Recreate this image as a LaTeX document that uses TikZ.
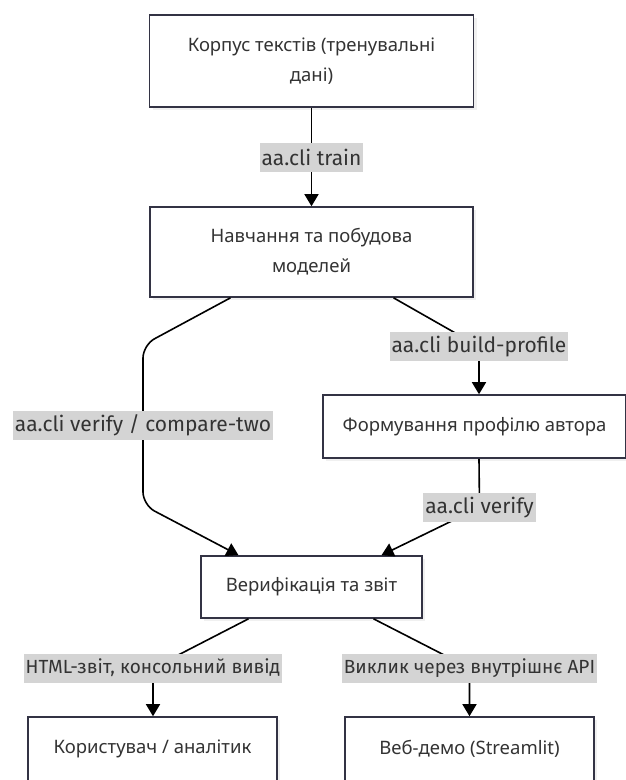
\documentclass[tikz,border=0pt]{standalone}
\usepackage{fontspec}
\setmainfont{Noto Sans}
\newfontfamily\tagfont{Fira Sans}
\usetikzlibrary{arrows.meta,calc,shadows}
\definecolor{ink}{HTML}{333344}
\definecolor{tagfill}{HTML}{D4D4D4}
\definecolor{txt}{HTML}{333333}

\begin{document}
\begin{tikzpicture}[x=1pt,y=-1pt,
  s/.style={draw=ink,line width=1.6pt,fill=white,align=center,text=txt,
            font=\fontsize{18.5}{30}\selectfont,inner sep=0pt,
            drop shadow={shadow xshift=3pt,shadow yshift=-3pt,fill=black!6,opacity=1}},
  tag/.style={sharp corners,fill=tagfill,text=txt,font=\tagfont\fontsize{21}{24}\selectfont,
              inner xsep=2pt,inner ysep=0pt,minimum height=29pt},
  tagc/.style={tag,font=\tagfont\fontsize{19}{24}\selectfont},
  ar/.style={-{Triangle[length=12pt,width=14pt]},line width=1.6pt,draw=black,
             rounded corners=13pt}]
\useasboundingbox (0,0) rectangle (626,780);
\node[s,minimum width=324pt,minimum height=92pt] (a) at (311.5,61)
  {Корпус текстів (тренувальні\\дані)};
\node[s,minimum width=323pt,minimum height=90pt] (b) at (311.5,252)
  {Навчання та побудова\\моделей};
\node[s,minimum width=303pt,minimum height=63pt] (c) at (474.5,426.5)
  {Формування профілю автора};
\node[s,minimum width=221pt,minimum height=62pt] (d) at (311.5,587)
  {Верифікація та звіт};
\node[s,minimum width=249pt,minimum height=64pt] (e) at (152.5,749)
  {Користувач / аналітик};
\node[s,minimum width=249pt,minimum height=64pt] (f) at (469.5,749)
  {Веб-демо (Streamlit)};
% connectors, labels sit on top of the lines
\draw[ar] (a) -- node[tag] (la) {aa.cli train} (b);
\draw[ar] ($(b.south)+(-81,0)$) -- (143,345) -- node[tag] (lc) {aa.cli verify / compare-two}
  (143,505) -- ($(d.north)+(-73,0)$);
\draw[ar] ($(b.south)+(82,0)$) -- (479,346.5) coordinate (kb) node[tag] (lb) {aa.cli build-profile}
  -- (kb |- c.north);
\draw[ar] ($(c.south)+(4.5,0)$) -- (479.5,507.5) node[tag] (ld) {aa.cli verify}
  -- ($(d.north)+(70,0)$);
\draw[ar] ($(d.south)+(-63,0)$) -- (153,668) coordinate (ke) node[tagc] (le) {HTML-звіт, консольний вивід}
  -- (ke |- e.north);
\draw[ar] ($(d.south)+(62,0)$) -- (469.5,668) coordinate (kf) node[tagc] (lf) {Виклик через внутрішнє API}
  -- (kf |- f.north);
\end{tikzpicture}
\end{document}
